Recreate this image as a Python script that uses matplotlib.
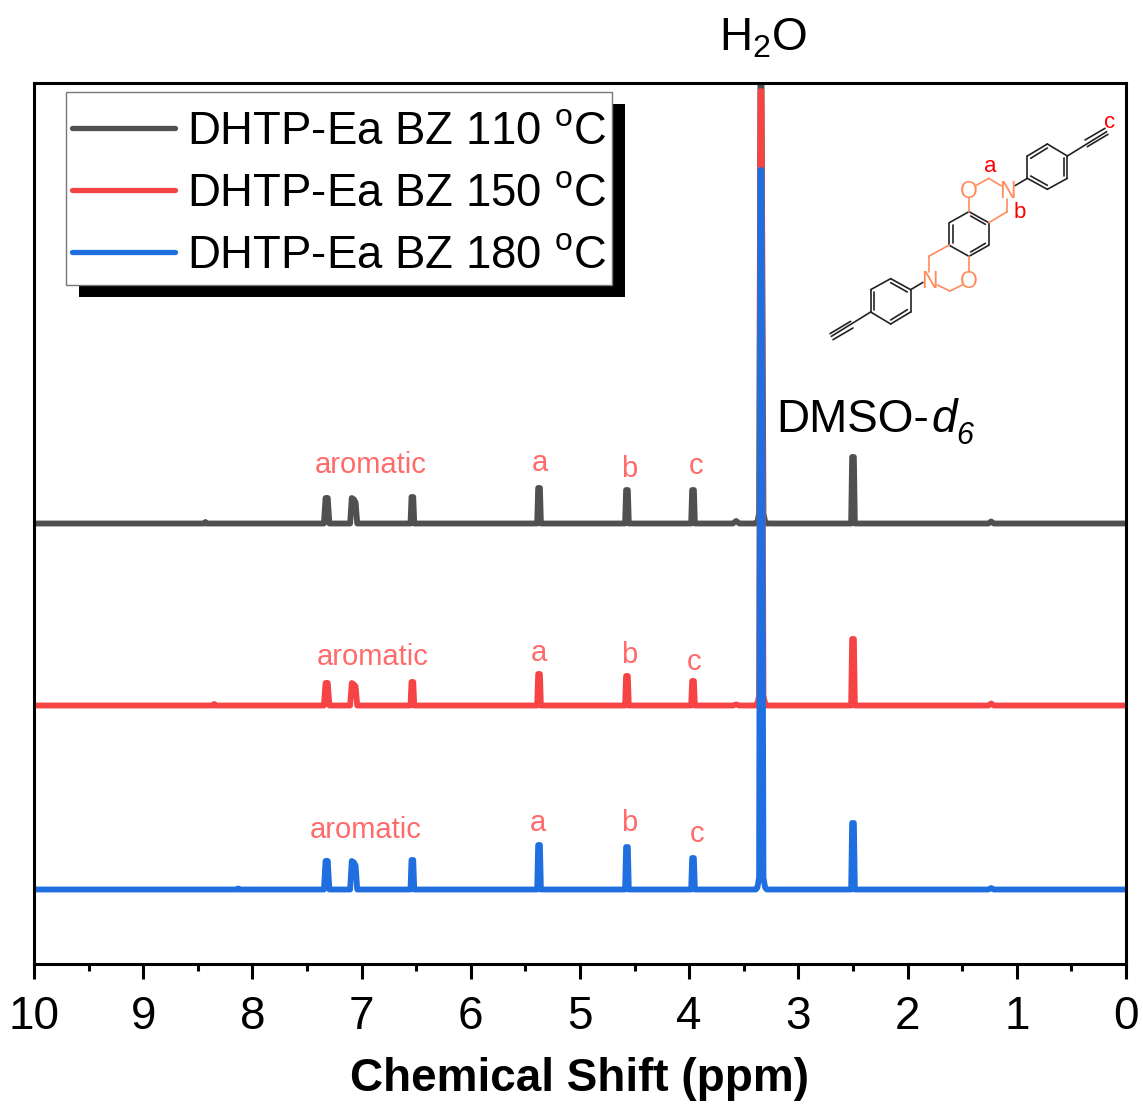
import numpy as np
import matplotlib
matplotlib.use("Agg")
from matplotlib import pyplot as plt
from matplotlib.patches import Rectangle
from matplotlib.ticker import MultipleLocator

plt.rcParams['font.family'] = ['Liberation Sans', 'DejaVu Sans']
plt.rcParams['mathtext.fontset'] = 'custom'
plt.rcParams['mathtext.rm'] = 'Liberation Sans'
plt.rcParams['mathtext.it'] = 'Liberation Sans:italic'
plt.rcParams['mathtext.bf'] = 'Liberation Sans:bold'

W, H = 1143, 1104

# shared chemical shift grid (ppm)
ppm = [10.0,
       8.44, 8.43, 8.42, 8.36, 8.35, 8.34, 8.14, 8.13, 8.12,
       7.345, 7.33, 7.32, 7.31, 7.295,
       7.105, 7.09, 7.07, 7.055, 7.04,
       6.552, 6.543, 6.527, 6.518,
       5.392, 5.383, 5.367, 5.358,
       4.587, 4.578, 4.562, 4.553,
       3.982, 3.973, 3.957, 3.948,
       3.60, 3.57, 3.54,
       3.39, 3.375, 3.36, 3.347, 3.339, 3.32, 3.305, 3.29,
       2.517, 2.508, 2.492, 2.483,
       1.26, 1.235, 1.21,
       0.0]

gray_int = [0,
            0, 1.5, 0, 0, 0, 0, 0, 0, 0,
            0, 25.5, 24, 25.5, 0,
            0, 25.5, 24, 21, 0,
            0, 26.5, 26.5, 0,
            0, 35.5, 35.5, 0,
            0, 33.5, 33.5, 0,
            0, 33.5, 33.5, 0,
            0, 2.5, 0,
            0, 2, 10, 470, 470, 10, 2, 0,
            0, 66.5, 66.5, 0,
            0, 2, 0,
            0]
red_int = [0,
           0, 0, 0, 0, 1.5, 0, 0, 0, 0,
           0, 22.5, 21, 22.5, 0,
           0, 22.5, 21, 19, 0,
           0, 23.5, 23.5, 0,
           0, 31.5, 31.5, 0,
           0, 29.5, 29.5, 0,
           0, 24.5, 24.5, 0,
           0, 1, 0,
           0, 2, 10, 614.5, 614.5, 10, 2, 0,
           0, 66.5, 66.5, 0,
           0, 2, 0,
           0]
blue_int = [0,
            0, 0, 0, 0, 0, 0, 0, 1, 0,
            0, 28.5, 26, 28.5, 0,
            0, 28.5, 27, 24, 0,
            0, 29.5, 29.5, 0,
            0, 44.5, 44.5, 0,
            0, 42.5, 42.5, 0,
            0, 31.5, 31.5, 0,
            0, 0, 0,
            0, 2, 12, 719.5, 719.5, 12, 2, 0,
            0, 66.5, 66.5, 0,
            0, 1.5, 0,
            0]

gray_base = 440.5
red_base = 258.5
blue_base = 74.5

labels = ['DHTP-Ea BZ 110 $^{\\mathrm{o}}$C',
          'DHTP-Ea BZ 150 $^{\\mathrm{o}}$C',
          'DHTP-Ea BZ 180 $^{\\mathrm{o}}$C']
colors = ['#505050', '#f64444', '#1f6fe0']

# peak labels: text, x px, y px
peak_notes = [('aromatic', 371, 465), ('a', 540, 463), ('b', 629, 469), ('c', 696, 466),
              ('aromatic', 373, 657), ('a', 539, 653), ('b', 629, 655), ('c', 694, 662),
              ('aromatic', 366, 830), ('a', 538, 823), ('b', 629, 823), ('c', 697, 834)]

# molecule in the 3x zoom coordinates, black half is point mirrored
black_bonds = [((645, 287), (682, 265)),
               ((682, 265), (682, 198)), ((682, 198), (742, 162)), ((742, 162), (802, 198)),
               ((802, 198), (802, 265)), ((802, 265), (742, 298)), ((742, 298), (682, 265)),
               ((692, 205), (742, 174)), ((791, 205), (791, 258)), ((692, 258), (742, 286)),
               ((802, 198), (920, 125)), ((855, 150), (915, 115)), ((862, 170), (924, 133)),
               ((448, 398), (507, 365)), ((507, 365), (566, 398)), ((566, 398), (566, 465))]
ring_inner = [((458, 405), (458, 458)), ((512, 378), (556, 403)), ((512, 486), (556, 460))]
orange_bonds = [((507, 365), (507, 325)), ((527, 287), (566, 265)), ((566, 265), (603, 287)),
                ((622, 326), (622, 365)), ((622, 365), (566, 398)),
                ((507, 498), (507, 545)), ((487, 585), (450, 603)), ((450, 603), (412, 585)),
                ((388, 546), (388, 498)), ((388, 498), (448, 465))]
hetero_atoms = [('O', 507, 306), ('N', 622, 306), ('O', 507, 576), ('N', 388, 576)]


def to_px(p):
    return 800 + p[0] / 3, 90 + p[1] / 3


def mirror(p):
    return 1014 - p[0], 864 - p[1]


def draw_bond(ov, a, b, col):
    xs, ys = zip(*[to_px(p) for p in (a, b)])
    ov.plot(xs, ys, color=col, lw=1.2, solid_capstyle='round')


def draw_molecule(ov):
    for a, b in black_bonds:
        draw_bond(ov, a, b, '#222222')
        draw_bond(ov, mirror(a), mirror(b), '#222222')
    for a, b in ring_inner:
        draw_bond(ov, a, b, '#222222')
    for a, b in orange_bonds:
        draw_bond(ov, a, b, '#ff8c5a')
    for s, x, y in hetero_atoms:
        px, py = to_px((x, y))
        ov.text(px, py, s, color='#ff8c5a', fontsize=16.5, ha='center', va='center')
    ov.text(990.5, 166, 'a', color='red', fontsize=16, ha='center', va='center')
    ov.text(1020, 213, 'b', color='red', fontsize=16, ha='center', va='center')
    ov.text(1110, 122, 'c', color='red', fontsize=16, ha='center', va='center')


def main():
    fig = plt.figure(figsize=(W / 100, H / 100), dpi=100)
    ax = fig.add_axes([34 / W, (H - 964) / H, 1092 / W, 881 / H])

    # spectra, stacked
    bases = [gray_base, red_base, blue_base]
    ints = [gray_int, red_int, blue_int]
    handles = []
    for y, base, lab, col in zip(ints, bases, labels, colors):
        line, = ax.plot(ppm, np.array(y) + base, color=col, lw=4.2, label=lab,
                        solid_joinstyle='round', solid_capstyle='butt')
        handles.append(line)

    ax.set_xlim(10, 0)
    ax.set_ylim(0, 881)
    ax.set_yticks([])
    ax.xaxis.set_major_locator(MultipleLocator(1))
    ax.xaxis.set_minor_locator(MultipleLocator(0.5))
    ax.tick_params(axis='x', which='major', length=10.5, width=2.2, labelsize=33, pad=12)
    ax.tick_params(axis='x', which='minor', length=5, width=2.2)
    ax.set_xlabel('Chemical Shift (ppm)', fontsize=33, fontweight='bold', labelpad=13)
    for s in ax.spines.values():
        s.set_linewidth(2.2)

    # overlay in pixel coordinates for legend box, notes and the molecule
    ov = fig.add_axes([0, 0, 1, 1])
    ov.set_xlim(0, W)
    ov.set_ylim(H, 0)
    ov.axis('off')
    ov.patch.set_alpha(0)

    # hard shadow and frame of the legend
    ov.add_patch(Rectangle((79, 104), 546, 193, facecolor='black', edgecolor='none', zorder=4))
    ov.add_patch(Rectangle((66, 92), 546, 193, facecolor='white', edgecolor='#777777',
                           lw=1, zorder=4.5))
    leg = ov.legend(handles, labels, loc='upper left', bbox_to_anchor=(66 / W, 1 - 104.5 / H),
                    bbox_transform=fig.transFigure, borderaxespad=0, fontsize=32.8,
                    frameon=False, handlelength=2.27, handletextpad=0.26, borderpad=0.13,
                    labelspacing=0.39)
    for line in leg.get_lines():
        line.set_solid_capstyle('round')
        line.set_linewidth(3.8)
    leg.set_zorder(5)

    for s, x, y in peak_notes:
        ov.text(x, y, s, color='#ff6b6b', fontsize=21, ha='center', va='center')
    ov.text(763, 38, 'H$_{2}$O', fontsize=33, ha='center', va='center')
    ov.text(776, 432, 'DMSO-', fontsize=33, ha='left', va='baseline')
    ov.text(931, 432, 'd', fontsize=33, style='italic', ha='left', va='baseline')
    ov.text(956, 444, '6', fontsize=22, style='italic', ha='left', va='baseline')
    draw_molecule(ov)

    fig.savefig('out.png', dpi=100)


if __name__ == "__main__":
    main()
